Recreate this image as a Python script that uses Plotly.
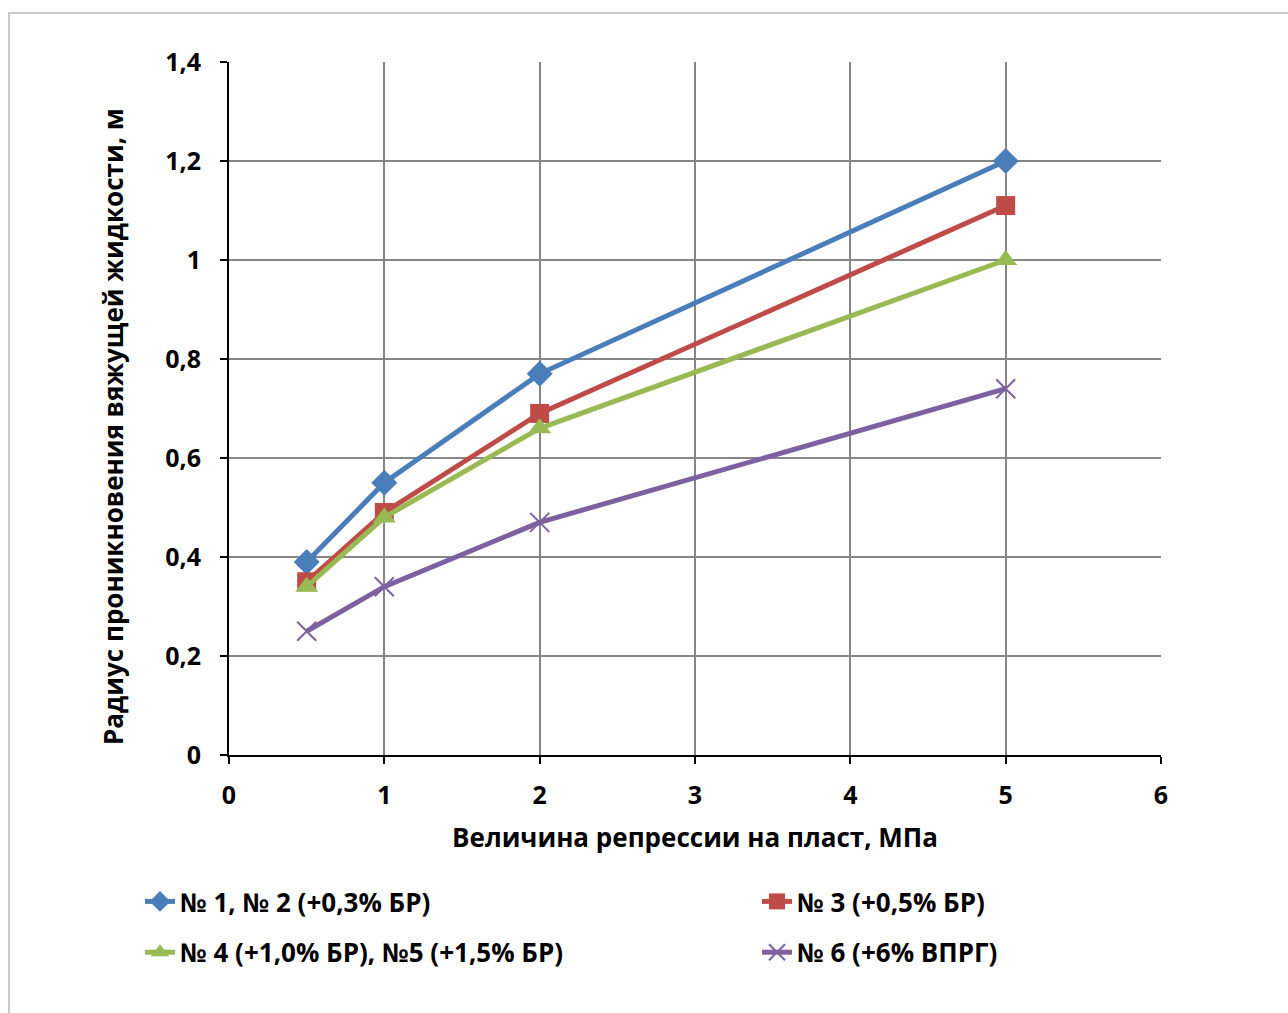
import plotly.graph_objects as go

x_vals = [0.5, 1, 2, 5]
s1_name = "№ 1, № 2 (+0,3% БР)"
s1 = [0.39, 0.55, 0.77, 1.20]
s2_name = "№ 3 (+0,5% БР)"
s2 = [0.35, 0.49, 0.69, 1.11]
s3_name = "№ 4 (+1,0% БР), №5 (+1,5% БР)"
s3 = [0.34, 0.48, 0.66, 1.00]
s4_name = "№ 6 (+6% ВПРГ)"
s4 = [0.25, 0.34, 0.47, 0.74]

x_ticks = [0, 1, 2, 3, 4, 5, 6]
y_ticks = [0, 0.2, 0.4, 0.6, 0.8, 1.0, 1.2, 1.4]
y_tick_text = ["0", "0,2", "0,4", "0,6", "0,8", "1", "1,2", "1,4"]
x_title = "Величина репрессии на пласт, МПа"
y_title = "Радиус проникновения вяжущей жидкости, м"

FONT = "Open Sans"
W, H = 1288, 1013
L, R, T, B = 229, 1161, 62, 755
pw, ph = R - L, B - T

def px(xp):
    return (xp - L) / pw

def py(yp):
    return (B - yp) / ph

fig = go.Figure()
fig.add_trace(go.Scatter(x=x_vals, y=s1, name=s1_name, mode="lines+markers",
                         line=dict(color="#4A7EBB", width=5),
                         marker=dict(symbol="diamond", size=20, color="#4A7EBB"),
                         legend="legend", legendgroup="a"))
fig.add_trace(go.Scatter(x=x_vals, y=s2, name=s2_name, mode="lines+markers",
                         line=dict(color="#BE4B48", width=5),
                         marker=dict(symbol="square", size=19, color="#BE4B48"),
                         legend="legend2", legendgroup="b"))
fig.add_trace(go.Scatter(x=x_vals, y=s3, name=s3_name, mode="lines+markers",
                         line=dict(color="#98B954", width=5),
                         marker=dict(symbol="triangle-up", size=20, color="#98B954"),
                         legend="legend", legendgroup="c"))
fig.add_trace(go.Scatter(x=x_vals, y=s4, name=s4_name, mode="lines+markers",
                         line=dict(color="#7D60A0", width=5),
                         marker=dict(symbol="x-thin", size=19, color="#7D60A0",
                                     line=dict(color="#7D60A0", width=2)),
                         legend="legend2", legendgroup="d"))

tick_font = dict(family=FONT, size=25, color="black", weight="bold")
legend_common = dict(font=dict(family=FONT, size=26, color="black", weight="bold"),
                     orientation="v", traceorder="grouped", tracegroupgap=14,
                     bgcolor="rgba(0,0,0,0)", xanchor="left", yanchor="top",
                     itemwidth=30)

fig.update_layout(
    width=W, height=H,
    margin=dict(l=L, r=W - R, t=T, b=H - B),
    plot_bgcolor="white", paper_bgcolor="white",
    xaxis=dict(range=[0, 6], tickvals=x_ticks, ticktext=[str(v) for v in x_ticks],
               showgrid=True, gridcolor="#868686", gridwidth=2,
               showline=True, linecolor="black", linewidth=2,
               ticks="outside", ticklen=7, tickwidth=2, tickcolor="black",
               tickfont=tick_font, zeroline=False, ticklabelstandoff=10,
               title=dict(text=x_title,
                          font=dict(family=FONT, size=26, color="black", weight="bold"),
                          standoff=19)),
    yaxis=dict(range=[0, 1.4], tickvals=y_ticks, ticktext=y_tick_text,
               showgrid=True, gridcolor="#868686", gridwidth=2,
               showline=True, linecolor="black", linewidth=2,
               ticks="outside", ticklen=7, tickwidth=2, tickcolor="black",
               tickfont=tick_font, zeroline=False, ticklabelstandoff=14),
    legend=dict(x=px(140), y=py(878), **legend_common),
    legend2=dict(x=px(757), y=py(878), **legend_common),
    showlegend=True,
)

fig.add_annotation(text=y_title, textangle=-90, xref="paper", yref="paper",
                   x=px(113), y=py(427), xanchor="center", yanchor="middle",
                   showarrow=False,
                   font=dict(family=FONT, size=26, color="black", weight="bold"))

fig.add_shape(type="rect", xref="paper", yref="paper",
              x0=px(9), x1=px(1295), y0=py(1020), y1=py(13),
              line=dict(color="#C8C8C8", width=2), layer="below")

fig.write_html("out.html")
